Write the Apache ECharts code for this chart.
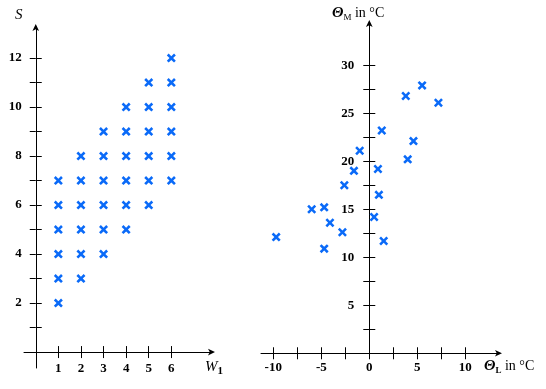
<!DOCTYPE html>
<html>
<head>
<meta charset="utf-8">
<script src="https://cdn.jsdelivr.net/npm/echarts@6/dist/echarts.min.js"></script>
<style>html,body{margin:0;padding:0;background:#fff;}#c{width:546px;height:389px;}</style>
</head>
<body>
<div id="c"></div>
<script>
// Left chart data: W1 vs S
var w1Values = [1,1,1,1,1,1, 2,2,2,2,2,2, 3,3,3,3,3,3, 4,4,4,4,4,4, 5,5,5,5,5,5, 6,6,6,6,6,6];
var sValues  = [2,3,4,5,6,7, 3,4,5,6,7,8, 4,5,6,7,8,9, 5,6,7,8,9,10, 6,7,8,9,10,11, 7,8,9,10,11,12];
var leftXTicks = [1,2,3,4,5,6];
var leftXLabels = [1,2,3,4,5,6];
var leftYTicks = [1,2,3,4,5,6,7,8,9,10,11,12];
var leftYLabels = [2,4,6,8,10,12];

// Right chart data: ThetaL vs ThetaM
var thetaL = [5.5, 3.8, 7.2, 1.3, 4.6, -1.0, 4.0, 0.9, -1.6, -2.6, 1.0, -4.7, -6.0, 0.5, -4.1, -2.8, -9.7, 1.5, -4.7];
var thetaM = [27.9, 26.8, 26.1, 23.2, 22.1, 21.1, 20.2, 19.2, 19.0, 17.5, 16.5, 15.2, 15.0, 14.2, 13.6, 12.6, 12.1, 11.7, 10.9];
var rightXTicks = [-10,-7.5,-5,-2.5,0,2.5,5,7.5,10];
var rightXLabels = [-10,-5,0,5,10];
var rightYTicks = [2.5,5,7.5,10,12.5,15,17.5,20,22.5,25,27.5,30];
var rightYLabels = [5,10,15,20,25,30];

var leftData = w1Values.map(function(v,i){return [v, sValues[i]];});
var rightData = thetaL.map(function(v,i){return [v, thetaM[i]];});

var blue = '#0a6af8';
var xMark = 'path://M0,2 L2,0 L5,3 L8,0 L10,2 L7,5 L10,8 L8,10 L5,7 L2,10 L0,8 L3,5 Z';
var labelFont = {color:'#000', fontFamily:'"Liberation Serif", serif', fontWeight:'bold', fontSize:13};
var lineStyle = {color:'#000', width:1};

// grid geometry
var G0 = {left:24, top:27, width:188, height:341};
var G1 = {left:261, top:23, width:238, height:332.2};
var L = {xmin:-0.52, xmax:7.8, ymin:-0.65, ymax:13.27};
var R = {xmin:-11.28, xmax:13.51, ymin:-0.2, ymax:34.4};
// offsets placing each axis line at the zero of the other axis
function xOff(g, r){ return -(g.height * (0 - r.ymin) / (r.ymax - r.ymin)); }
function yOff(g, r){ return -(g.width * (0 - r.xmin) / (r.xmax - r.xmin)); }

function mainAxis(dim, grid, min, max, ticks, labels, margin, offset) {
  return {
    type:'value', gridIndex:grid, min:min, max:max, offset:offset,
    position: dim==='x' ? 'bottom' : 'left',
    axisLine:{show:true, onZero:false, lineStyle:lineStyle,
      symbol:['none','arrow'], symbolSize:[5,7], symbolOffset:[0,3]},
    axisTick:{show:true, inside:false, length:6, customValues:ticks, lineStyle:lineStyle},
    axisLabel:Object.assign({show:true, margin:margin, customValues:labels}, labelFont),
    splitLine:{show:false}
  };
}
function tickAxis(dim, grid, min, max, ticks, offset) {
  return {
    type:'value', gridIndex:grid, min:min, max:max, offset:offset,
    position: dim==='x' ? 'bottom' : 'left',
    axisLine:{show:false, onZero:false},
    axisTick:{show:true, inside:true, length:6, customValues:ticks, lineStyle:lineStyle},
    axisLabel:{show:false},
    splitLine:{show:false}
  };
}

var serif = '"Liberation Serif", serif';
var option = {
  animation:false,
  backgroundColor:'#fff',
  grid:[
    Object.assign({outerBoundsMode:'none', containLabel:false}, G0),
    Object.assign({outerBoundsMode:'none', containLabel:false}, G1)
  ],
  xAxis:[
    mainAxis('x', 0, L.xmin, L.xmax, leftXTicks, leftXLabels, 10, xOff(G0, L)),
    tickAxis('x', 0, L.xmin, L.xmax, leftXTicks, xOff(G0, L)),
    mainAxis('x', 1, R.xmin, R.xmax, rightXTicks, rightXLabels, 8, xOff(G1, R)),
    tickAxis('x', 1, R.xmin, R.xmax, rightXTicks, xOff(G1, R))
  ],
  yAxis:[
    mainAxis('y', 0, L.ymin, L.ymax, leftYTicks, leftYLabels, 14, yOff(G0, L)),
    tickAxis('y', 0, L.ymin, L.ymax, leftYTicks, yOff(G0, L)),
    mainAxis('y', 1, R.ymin, R.ymax, rightYTicks, rightYLabels, 15, yOff(G1, R)),
    tickAxis('y', 1, R.ymin, R.ymax, rightYTicks, yOff(G1, R))
  ],
  graphic:[
    {type:'text', left:15, top:8, style:{text:'S', font:'italic 15px ' + serif, fill:'#000'}},
    {type:'text', left:205, top:360, style:{
      text:'{a|W}{b|1}', fill:'#000',
      rich:{a:{fontFamily:serif, fontStyle:'italic', fontSize:15, lineHeight:18, fill:'#000'},
            b:{fontFamily:serif, fontWeight:'bold', fontSize:11, lineHeight:11, verticalAlign:'bottom', fill:'#000'}}}},
    {type:'text', left:332, top:6, style:{
      text:'{t|Θ}{s|M}{r| in °C}', fill:'#000',
      rich:{t:{fontFamily:serif, fontStyle:'italic', fontWeight:'bold', fontSize:15, lineHeight:18, fill:'#000'},
            s:{fontFamily:serif, fontSize:9, lineHeight:9, verticalAlign:'bottom', fill:'#000'},
            r:{fontFamily:serif, fontSize:14, lineHeight:18, fill:'#000'}}}},
    {type:'text', left:484, top:359, style:{
      text:'{t|Θ}{s|L}{r| in °C}', fill:'#000',
      rich:{t:{fontFamily:serif, fontStyle:'italic', fontWeight:'bold', fontSize:15, lineHeight:18, fill:'#000'},
            s:{fontFamily:serif, fontWeight:'bold', fontSize:9, lineHeight:9, verticalAlign:'bottom', fill:'#000'},
            r:{fontFamily:serif, fontSize:14, lineHeight:18, fill:'#000'}}}}
  ],
  series:[
    {type:'scatter', xAxisIndex:0, yAxisIndex:0, data:leftData, symbol:xMark, symbolSize:9,
      itemStyle:{color:blue, opacity:1}},
    {type:'scatter', xAxisIndex:2, yAxisIndex:2, data:rightData, symbol:xMark, symbolSize:9,
      itemStyle:{color:blue, opacity:1}}
  ]
};
var chart = echarts.init(document.getElementById('c'), null, {renderer:'canvas'});
chart.setOption(option);
</script>
</body>
</html>
